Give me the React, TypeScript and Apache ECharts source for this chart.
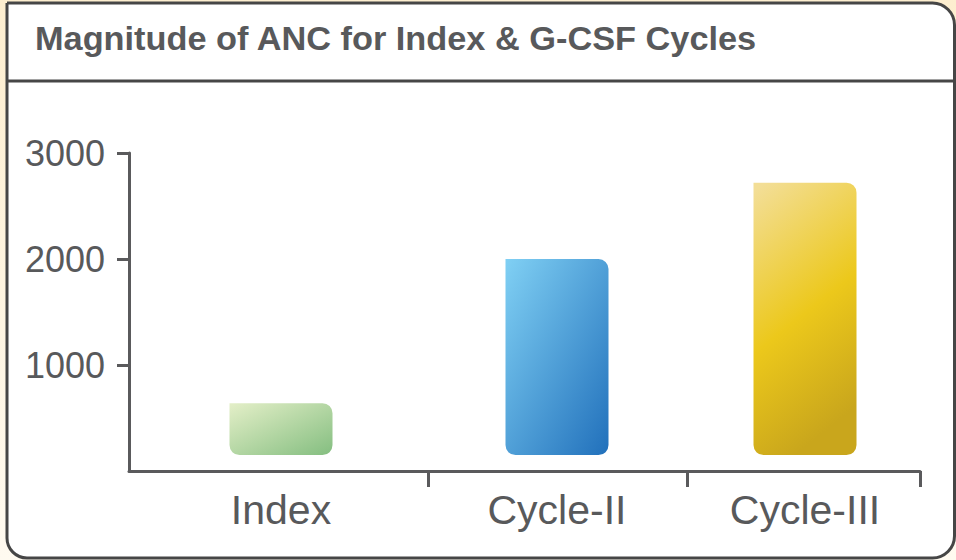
import React, { useEffect, useRef } from "react";
import * as echarts from "echarts";

// ---- data ----
const title = "Magnitude of ANC for Index & G-CSF Cycles";
const categories = ["Index", "Cycle-II", "Cycle-III"];
const values = [640, 2000, 2720];
const barBase = 150; // bars float above the axis, starting at this value
const yTicks = [0, 1000, 2000, 3000];

export default function App() {
  const ref = useRef<HTMLDivElement>(null);

  useEffect(() => {
    document.body.style.margin = "0";
    const chart = echarts.init(ref.current!, undefined, { renderer: "svg" });

    // layout of the (uneven) category slots along the x axis, in axis units
    const xSpan = 791;
    const slotCenters = [152, 428, 676];
    const slotEdges = [299, 558, 791];
    const barUnits = 103;

    const gradients = [
      new echarts.graphic.LinearGradient(0, 0, 1, 1, [
        { offset: 0, color: "#e4efc8" },
        { offset: 1, color: "#84be80" },
      ]),
      new echarts.graphic.LinearGradient(0, 0, 1, 1, [
        { offset: 0, color: "#80d0f4" },
        { offset: 1, color: "#2170bb" },
      ]),
      new echarts.graphic.LinearGradient(0.1, 0, 0.4, 1, [
        { offset: 0, color: "#f3de96" },
        { offset: 0.55, color: "#ecc81b" },
        { offset: 1, color: "#c9a61c" },
      ]),
    ];

    const textColor = "#58595b";
    const axisColor = "#5a5a5c";

    chart.setOption({
      animation: false,
      backgroundColor: new echarts.graphic.LinearGradient(0, 0, 0, 1, [
        { offset: 0, color: "#fdeecf" },
        { offset: 1, color: "#fffaf0" },
      ]),
      graphic: [
        {
          type: "rect",
          z: -10,
          shape: { x: 7, y: 3, width: 947.5, height: 555, r: [0, 22, 22, 20] },
          style: { fill: "#ffffff", stroke: "#464646", lineWidth: 3 },
        },
        {
          type: "line",
          z: -9,
          shape: { x1: 7, y1: 81, x2: 956, y2: 81 },
          style: { stroke: "#464646", lineWidth: 3 },
        },
        {
          type: "text",
          x: 35,
          y: 22,
          scaleX: 1.04,
          style: {
            text: title,
            fill: textColor,
            font: 'bold 33px "Liberation Sans", Arial, sans-serif',
            textAlign: "left",
            textVerticalAlign: "top",
          },
        },
      ],
      grid: { left: 129, right: 36, top: 153, bottom: 89, containLabel: false },
      xAxis: {
        type: "value",
        min: 0,
        max: xSpan,
        splitLine: { show: false },
        axisLine: { show: true, lineStyle: { color: axisColor, width: 3 } },
        axisTick: {
          show: true,
          customValues: slotEdges,
          length: 16,
          inside: false,
          lineStyle: { color: axisColor, width: 3 },
        },
        axisLabel: {
          customValues: slotCenters,
          formatter: (v: number) => {
            const i = slotCenters.indexOf(v);
            return i >= 0 ? categories[i] : "";
          },
          color: textColor,
          fontSize: 41,
          fontFamily: "Liberation Sans, Arial, sans-serif",
          margin: 18,
        },
      },
      yAxis: {
        type: "value",
        min: yTicks[0],
        max: yTicks[yTicks.length - 1],
        interval: 1000,
        splitLine: { show: false },
        axisLine: { show: true, lineStyle: { color: axisColor, width: 3 } },
        axisTick: { show: true, length: 12, lineStyle: { color: axisColor, width: 3 } },
        axisLabel: {
          showMinLabel: false,
          formatter: (v: number) => String(v),
          color: textColor,
          fontSize: 36,
          fontFamily: "Liberation Sans, Arial, sans-serif",
          margin: 24,
        },
      },
      series: [
        {
          type: "custom",
          encode: { x: 0, y: 1 },
          data: values.map((v, i) => [slotCenters[i], v, barBase]),
          renderItem: (params: any, api: any) => {
            const x = api.value(0);
            const top = api.coord([x, api.value(1)]);
            const bottom = api.coord([x, api.value(2)]);
            const w = api.size([barUnits, 0])[0];
            return {
              type: "rect",
              shape: {
                x: top[0] - w / 2,
                y: top[1],
                width: w,
                height: bottom[1] - top[1],
                r: [0, 10, 10, 10],
              },
              style: { fill: gradients[params.dataIndex] },
            };
          },
        },
      ],
    });

    return () => chart.dispose();
  }, []);

  return <div ref={ref} style={{ position: "absolute", left: 0, top: 0, width: 956, height: 560 }} />;
}
